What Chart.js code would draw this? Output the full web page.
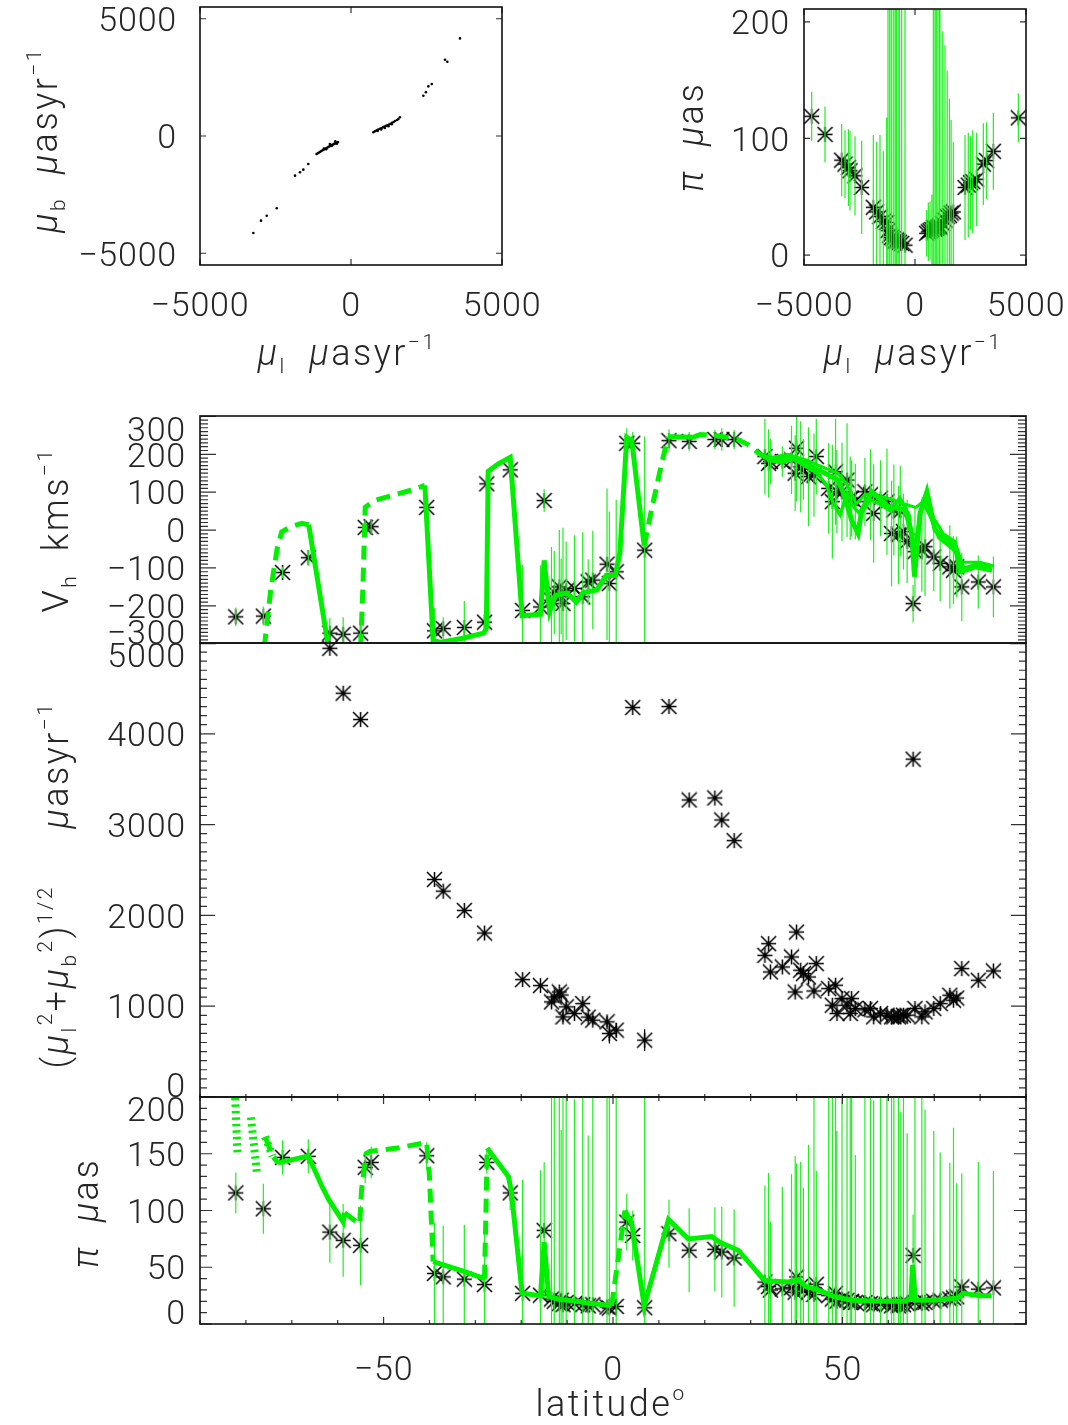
<!DOCTYPE html>
<html lang="en">
<head>
<meta charset="UTF-8">
<title>Proper motions, radial velocities and parallaxes vs latitude</title>
<script src="https://cdn.jsdelivr.net/npm/chart.js@4.4.1/dist/chart.umd.min.js"></script>
<style>
  body { margin: 0; background: #fff; }
  #page { position: relative; width: 1068px; height: 1425px; }
  #page canvas { position: absolute; left: 0; top: 0; }
</style>
</head>
<body>
<div id="page">
  <canvas id="pmPlot" width="1068" height="1425"></canvas>
  <canvas id="plxMuPlot" width="1068" height="1425"></canvas>
  <canvas id="vhPlot" width="1068" height="1425"></canvas>
  <canvas id="muPlot" width="1068" height="1425"></canvas>
  <canvas id="plxPlot" width="1068" height="1425"></canvas>
</div>
<script>
// ---------- values ----------

// top left: mu_b against mu_l (micro-arcsec / yr)
const pmL = [-3234, -2980, -2790, -2460, -1854, -1689, -1579, -1414,
  -1140, -1100, -1060, -1020, -980, -940, -900, -860, -820, -780,
  -740, -700, -660, -620, -580, -540, -500, -460, -430, -470,
  -900, -820, -700, -640, -560, -520,
  740, 790, 850, 900, 960, 1010, 1060, 1110, 1160, 1210,
  1260, 1310, 1360, 1410, 1460, 1520, 1570, 1620, 880, 1000, 1120, 1240, 1350,
  2396, 2480, 2561, 2674, 3113, 3190, 3609];
const pmB = [-4135, -3610, -3397, -3082, -1691, -1547, -1435, -1193,
  -770, -735, -705, -675, -640, -610, -580, -550, -520, -490,
  -460, -430, -400, -380, -350, -330, -300, -280, -260, -330,
  -540, -560, -340, -420, -330, -230,
  160, 200, 240, 270, 310, 340, 370, 400, 430, 460,
  490, 520, 560, 600, 640, 680, 720, 800, 210, 280, 340, 420, 500,
  1717, 1870, 2117, 2215, 3250, 3165, 4162];

// top right: parallax against mu_l
const plxMuL = [-4655, -4054, -3303, -3153, -3000, -2928, -2703, -2403,
  -1877, -1727, -1577, -1426, -1276, -1216, -1140, -1066, -980, -900, -840, -766, -700, -600, -450,
  525, 600, 676, 760, 826, 900, 960, 1030, 1100, 1126, 1250, 1350, 1450, 1550, 1626, 1726,
  2253, 2400, 2500, 2600, 2778, 3078, 3228, 3529, 4655];
const plxVal = [119, 103.5, 81.4, 78, 75, 72.3, 68, 58,
  41, 37, 33, 29, 28, 21, 17, 15, 14, 12, 13, 12, 11, 10, 8.5,
  18.7, 20, 21, 22, 24, 22, 23, 24, 25, 24, 27, 30, 33, 34, 36, 37,
  58, 60, 62, 63, 65, 78, 81, 89, 117.7];
const plxValErr = [21, 24, 31, 29, 33, 34, 34, 40,
  62, 60, 70, 60, 90, 300, 300, 300, 300, 300, 300, 300, 300, 300, 300,
  20, 25, 25, 30, 300, 300, 300, 300, 300, 190, 165, 150, 125, 100, 80, 60,
  45, 45, 40, 44, 40, 35, 33, 33, 21];

// lower three panels: one entry per star, ordered by latitude
const starLat = [-82.2, -76.2, -72.0, -66.4, -61.7, -58.8, -55.0, -54.0, -52.7, -40.6,
  -38.9, -37.0, -32.4, -28.0, -27.5, -22.4, -19.7, -15.8, -15.0, -13.4,
  -12.8, -11.7, -11.3, -10.9, -10.2, -8.4, -6.6, -5.4, -4.4, -1.3,
  -0.8, 0.7, 3.0, 4.3, 6.9, 12.2, 16.6, 22.2, 23.7, 26.4,
  33.1, 33.9, 34.3, 36.9, 38.9, 39.7, 40.0, 40.9, 41.5, 42.6,
  43.8, 44.3, 47.0, 47.8, 48.5, 48.8, 49.9, 51.0, 51.7, 52.0,
  52.8, 54.9, 56.1, 56.8, 58.3, 59.7, 60.7, 61.2, 62.2, 62.6,
  63.3, 64.1, 65.4, 65.8, 67.3, 68.0, 69.9, 71.3, 73.4, 74.2,
  74.9, 76.0, 79.6, 82.9];
const starVh = [-229, -227, -112, -73, -272, -275, -272, 7, 9, 60,
  -266, -260, -257, -243, 122, 159, -212, -203, 78, -185,
  -165, -150, -175, -194, -160, -154, -176, -137, -132, -90,
  -141, -110, 229, 229, -53, 236, 234, 239, 239, 239,
  194, 176, 181, 181, 185, 150, 216, 167, 160, 141,
  145, 194, 110, 75, 154, 101, 101, 132, 84, 84,
  75, 101, 93, 44, 84, 75, -9, 53, -13, 50,
  -4, -30, -194, -57, -53, -44, -71, -88, -97, -106,
  -97, -150, -137, -150];
const starVhErr = [25, 25, 15, 20, 40, 45, 40, 20, 20, 15,
  60, 30, 70, 30, 20, 20, 120, 110, 30, 140,
  110, 150, 100, 200, 130, 140, 170, 60, 130, 200,
  190, 190, 40, 30, 300, 30, 25, 25, 30, 25,
  100, 90, 60, 40, 90, 100, 140, 120, 80, 130,
  110, 100, 120, 150, 140, 110, 130, 150, 110, 100,
  100, 90, 120, 130, 100, 140, 140, 120, 130, 120,
  100, 110, 50, 120, 110, 130, 90, 100, 110, 90,
  80, 90, 70, 80];
const starMu = [null, null, null, null, 4942, 4447, 4157, null, null, null,
  2396, 2267, 2055, 1806, null, null, 1293, 1227, null, 1047,
  1102, 1157, 1124, 882, 993, 919, 1029, 880, 846, 828,
  700, 736, null, 4289, 626, 4300, 3271, 3293, 3051, 2824,
  1560, 1689, 1377, 1432, 1542, 1157, 1817, 1396, 1359, 1322,
  1168, 1469, 1194, 1011, 1231, 919, 1084, 1011, 920, 1084,
  974, 960, 974, 883, 919, 901, 883, 883, 883, 890,
  901, 901, 3721, 974, 883, 938, 974, 1029, 1121, 1066,
  1090, 1414, 1286, 1388];
const starMuErr = [0, 0, 0, 0, 20, 20, 20, 0, 0, 0,
  20, 20, 20, 20, 0, 0, 20, 20, 0, 60,
  40, 30, 30, 60, 50, 50, 40, 40, 50, 60,
  110, 80, 0, 20, 120, 20, 20, 20, 20, 20,
  30, 30, 30, 30, 30, 40, 30, 30, 30, 30,
  30, 30, 30, 40, 30, 40, 30, 40, 40, 30,
  30, 30, 30, 40, 30, 30, 30, 30, 30, 30,
  30, 30, 20, 40, 40, 30, 30, 30, 30, 30,
  30, 20, 20, 20];
const starPlx = [115.5, 101.5, 146.8, 147.7, 81, 73.7, 69.3, 138, 142.4, 148.2,
  44.5, 41.5, 39.5, 34.8, 142.4, 115.5, 27, 25.4, 82.5, 22,
  20, 18, 21, 17, 19, 18, 17, 16, 17, 15,
  14, 15.5, 89.8, 78, 14.3, 79.5, 65, 65.8, 63.4, 58.2,
  37, 33, 30, 31, 32, 28, 41.5, 33, 30, 28,
  26, 35, 25, 22, 27, 20, 22, 21, 19, 20,
  19, 19, 18, 17, 18, 17, 16, 17, 16, 17,
  17, 18, 60.5, 19, 18, 19, 20, 21, 22, 23,
  24, 32.7, 30.7, 31.8];
const starPlxErr = [18, 22, 15, 15, 27, 32, 35, 14, 14, 12,
  45, 45, 48, 45, 10, 15, 100, 110, 60, 200,
  180, 200, 150, 200, 190, 180, 200, 150, 190, 200,
  200, 200, 25, 22, 200, 30, 37, 37, 40, 43,
  85, 100, 60, 90, 100, 120, 100, 110, 90, 130,
  180, 100, 200, 180, 200, 150, 200, 200, 190, 200,
  130, 200, 200, 180, 200, 200, 190, 200, 200, 170,
  200, 150, 36, 200, 200, 170, 150, 130, 120, 150,
  100, 100, 112, 103];

// model curves (null = break in the line, dash flag 1 = dashed segment)
const modelVLat = [-76.0, -74.6, -73.2, -72.2, -70.3, -67.8, -66.3, -64.8, -62.0, -60.0,
  -55.0, -54.5, -54.0, -52.0, -47.0, -44.0, -41.0, -39.2, -37.5, -33.0,
  -28.2, -27.6, -27.2, -25.0, -22.4, -19.8, -15.8, -15.0, -13.8, -12.5,
  -10.0, -8.0, -6.5, -3.5, -1.5, 0.5, 1.5, 3.0, 4.1, 6.8,
  8.5, 10.5, 12.0, 17.5, 19.0, 23.0, 27.0, 29.5, 32.0, 33.0,
  36.0, 38.9, 41.8, 44.7, 47.6, 49.1, 50.5, 52.0, 53.4, 54.2,
  56.4, 60.0, 63.7, 65.1, 65.7, 66.9, 68.4, 70.2, 74.6, 75.7,
  79.0, 82.6];
const modelV = [-310, -160, -50, -5, 8, 18, 14, -100, -310, null,
  -310, -150, 60, 78, 95, 105, 118, -292, -296, -286,
  -272, -260, 155, 175, 192, -226, -222, -80, -215, -172,
  -166, -190, -165, -158, -120, -120, -60, 245, 236, -42,
  60, 170, 246, 245, 252, 248, 240, 225, 200, 194,
  185, 194, 176, 159, 141, 132, 88, 26, -9, 53,
  101, 62, 53, -9, -123, 44, 101, 0, -44, -110,
  -97, -106];
const modelVDash = [1, 1, 1, 1, 1, 1, 0, 0, 0, 0,
  1, 1, 1, 1, 1, 1, 0, 0, 0, 0,
  0, 0, 0, 0, 0, 0, 0, 0, 0, 0,
  0, 0, 0, 0, 0, 0, 0, 0, 0, 1,
  1, 1, 0, 1, 1, 1, 1, 1, 0, 0,
  0, 0, 0, 0, 0, 0, 0, 0, 0, 0,
  0, 0, 0, 0, 0, 0, 0, 0, 0, 0,
  0, 0];
const modelV2Lat = [33.5, 36.5, 39.5, 42.0, 44.5, 46.5, 48.0, 49.5, 51.0, 52.5,
  54.0, 56.0, 58.0, 60.5, 62.5, 64.5, 65.5, 67.5, 69.0, 71.0,
  73.0, 75.0, 76.5, 79.5, 82.5];
const modelV2 = [185, 178, 186, 168, 150, 120, 70, 40, 95, 60,
  40, 80, 70, 50, 85, 40, -60, 75, 40, -20,
  -40, -60, -100, -90, -100];
const modelV3Lat = [34.0, 38.0, 42.0, 46.0, 49.0, 51.0, 53.0, 55.0, 58.0, 61.0,
  63.0, 66.0, 68.0, 70.0, 72.0, 74.5, 76.0, 80.0, 83.0];
const modelV3 = [190, 200, 185, 165, 150, 120, 70, 95, 90, 80,
  70, 60, 80, 30, -10, -30, -85, -85, -95];

const modelPLat = [-82.4, -81.8, -80.0, -78.9, -77.6, -76.5, -75.8, -74.2, -73.0, -66.4,
  -63.5, -62.0, -58.8, -58.5, -55.2, -54.8, -53.8, -53.0, -47.0, -40.6,
  -40.0, -39.2, -33.0, -28.0, -27.4, -26.5, -22.8, -22.2, -19.8, -15.8,
  -15.0, -14.0, -12.0, -10.0, -8.0, -5.0, -2.0, -0.3, 0.7, 2.6,
  4.1, 6.8, 12.1, 16.4, 21.5, 23.3, 27.3, 33.1, 38.2, 40.4,
  42.0, 44.7, 48.3, 52.0, 58.0, 63.7, 64.9, 65.3, 65.9, 70.0,
  75.2, 76.3, 80.0, 82.5];
const modelP = [null, null, null, null, null, null, 165, 148, 142, 148,
  122, 110, 90, 98, 88, 118, 150, 152, 155, 160,
  130, 55, 47, 40, 155, 150, 130, 118, 27, 25,
  72, 24, 22, 21, 20, 18, 17, 16, 45, 100,
  88, 16, 92, 75, 77, 72, 65, 38, 37, 39,
  33, 30, 24, 21, 20, 20, 22, 52, 21, 21,
  23, 27, 25, 25];
const modelPDash = [0, 0, 0, 0, 0, 0, 1, 1, 0, 0,
  0, 0, 0, 1, 1, 1, 1, 1, 1, 1,
  1, 0, 0, 1, 0, 0, 0, 0, 0, 0,
  0, 0, 0, 0, 0, 0, 0, 1, 1, 0,
  0, 0, 0, 0, 0, 0, 0, 0, 0, 0,
  0, 0, 0, 0, 0, 0, 0, 0, 0, 0,
  0, 0, 0, 0];
// hatched pieces at the far south end of the parallax model
const modelPHatchLat = [-82.4, -81.8, -80.0, -78.9, -77.6, -76.5, -75.8, -74.2];
const modelPHatch = [205, 148, null, 182, 133, null, 165, 148];

// tick labels
const pmTicks = [-5000, 0, 5000];
const plxTopTicks = [0, 100, 200];
const vhTicks = [-300, -200, -100, 0, 100, 200, 300];
const muTicks = [0, 1000, 2000, 3000, 4000, 5000];
const plxTicks = [0, 50, 100, 150, 200];
const latTicks = [-50, 0, 50];

// ---------- drawing ----------
const W = 1068, H = 1425;
const FONT = 'Roboto, "Liberation Sans", Arial, sans-serif';
const FS = 34;     // tick labels
const TS = 36;     // axis titles
const INK = '#262626';
const GREEN = '#00f000';
const BAR_GREEN = '#1ff01f';

// IDL style asterisk used as the point symbol
function asterisk(size, lw) {
  const c = document.createElement('canvas');
  c.width = c.height = size;
  const g = c.getContext('2d');
  const m = size / 2, r = size / 2 - 1;
  g.strokeStyle = '#000';
  g.lineWidth = lw;
  g.beginPath();
  g.moveTo(m - r, m); g.lineTo(m + r, m);
  g.moveTo(m, m - r); g.lineTo(m, m + r);
  g.moveTo(m - r, m - r); g.lineTo(m + r, m + r);
  g.moveTo(m - r, m + r); g.lineTo(m + r, m - r);
  g.stroke();
  return c;
}
const STAR = asterisk(17, 1.5);

const fmt = v => String(v).replace('-', '\u2212');
const pts = (xs, ys) => xs.map((x, i) => ({ x, y: ys[i] }));
function bars(xs, ys, errs) {
  const out = [];
  xs.forEach((x, i) => {
    if (ys[i] == null || !errs[i]) return;
    out.push({ x, y: ys[i] - errs[i] }, { x, y: ys[i] + errs[i] }, { x, y: null });
  });
  return out;
}
function range(min, max, step) {
  const out = [];
  for (let v = Math.ceil(min / step) * step; v <= max + 1e-9; v += step) out.push(v);
  return out;
}

// text with italic / sub / sup pieces, centred on (cx, cy)
function drawRich(ctx, segs, cx, cy, rot) {
  ctx.save();
  ctx.translate(cx, cy);
  if (rot) ctx.rotate(rot);
  ctx.letterSpacing = '2.5px';
  const parts = segs.map(([t, k]) => {
    const s = (k === 'sub' || k === 'sup') ? TS * 0.58 : TS;
    const f = (k === 'i' ? 'italic ' : '') + '300 ' + s + 'px ' + FONT;
    ctx.font = f;
    return { t, k, f, w: ctx.measureText(t).width };
  });
  const total = parts.reduce((a, p) => a + p.w, 0);
  let x = -total / 2;
  ctx.fillStyle = INK;
  ctx.textAlign = 'left';
  ctx.textBaseline = 'alphabetic';
  for (const p of parts) {
    ctx.font = p.f;
    const dy = p.k === 'sub' ? TS * 0.22 : p.k === 'sup' ? -TS * 0.45 : 0;
    ctx.fillText(p.t, x, TS * 0.36 + dy);
    x += p.w;
  }
  ctx.restore();
}

function frame(spec) {
  return {
    id: 'frame',
    afterDraw(chart) {
      const { ctx, chartArea: a, scales } = chart;
      ctx.save();
      ctx.strokeStyle = '#333';
      ctx.lineWidth = 1.2;
      ctx.beginPath();
      for (const t of spec.ticks) {
        const sc = scales[t.axis];
        const vals = t.vals || range(sc.min, sc.max, t.step);
        for (const v of vals) {
          const p = sc.getPixelForValue(v);
          if (t.axis === 'y') {
            if (t.sides.includes('l')) { ctx.moveTo(a.left, p); ctx.lineTo(a.left + t.len, p); }
            if (t.sides.includes('r')) { ctx.moveTo(a.right, p); ctx.lineTo(a.right - t.len, p); }
          } else {
            if (t.sides.includes('b')) { ctx.moveTo(p, a.bottom); ctx.lineTo(p, a.bottom - t.len); }
            if (t.sides.includes('t')) { ctx.moveTo(p, a.top); ctx.lineTo(p, a.top + t.len); }
          }
        }
      }
      ctx.stroke();
      ctx.lineWidth = 1.6;
      ctx.strokeStyle = '#111';
      ctx.strokeRect(a.left, a.top, a.right - a.left, a.bottom - a.top);

      ctx.fillStyle = INK;
      ctx.font = '300 ' + FS + 'px ' + FONT;
      ctx.letterSpacing = '0.8px';
      ctx.textBaseline = 'alphabetic';
      if (spec.yLabels) {
        ctx.textAlign = 'right';
        for (const v of spec.yLabels.vals) {
          let p = scales.y.getPixelForValue(v);
          if (p - a.top < 3) p += 12;
          if (a.bottom - p < 3) p -= 12;
          ctx.fillText(fmt(v), spec.yLabels.x, p + FS * 0.36);
        }
      }
      if (spec.xLabels) {
        ctx.textAlign = 'center';
        for (const v of spec.xLabels.vals) {
          const p = scales.x.getPixelForValue(v);
          ctx.fillText(fmt(v), p, spec.xLabels.y + FS * 0.36);
        }
      }
      if (spec.yTitle) drawRich(ctx, spec.yTitle.segs, spec.yTitle.x, spec.yTitle.y, -Math.PI / 2);
      if (spec.xTitle) drawRich(ctx, spec.xTitle.segs, spec.xTitle.x, spec.xTitle.y, 0);
      ctx.restore();
    }
  };
}

function makePanel(id, box, xr, yr, datasets, deco) {
  return new Chart(document.getElementById(id), {
    type: 'scatter',
    data: { datasets },
    options: {
      responsive: false,
      animation: false,
      events: [],
      layout: { padding: { left: box[0], top: box[1], right: W - box[2], bottom: H - box[3] } },
      plugins: { legend: { display: false }, tooltip: { enabled: false } },
      scales: {
        x: { type: 'linear', display: false, min: xr[0], max: xr[1] },
        y: { type: 'linear', display: false, min: yr[0], max: yr[1] }
      }
    },
    plugins: [frame(deco)]
  });
}

const starSet = (xs, ys) => ({
  data: pts(xs, ys), showLine: false, pointStyle: STAR, pointRadius: 8,
  clip: false, order: 3
});
const barSet = (xs, ys, errs, color, width) => ({
  data: bars(xs, ys, errs), showLine: true, borderColor: color, borderWidth: width,
  pointRadius: 0, spanGaps: false, clip: 0, order: 2
});
const modelSet = (xs, ys, dash, width, pattern) => ({
  data: pts(xs, ys), showLine: true, borderColor: GREEN, borderWidth: width,
  pointRadius: 0, spanGaps: false, clip: 0, order: 1, tension: 0,
  segment: { borderDash: c => (dash && dash[c.p0DataIndex]) ? (pattern || [14, 8]) : undefined }
});

const T_MUB = [['\u03bc', 'i'], ['b', 'sub'], ['  '], ['\u03bc', 'i'], ['asyr'], ['\u22121', 'sup']];
const T_MUL = [['\u03bc', 'i'], ['l', 'sub'], ['  '], ['\u03bc', 'i'], ['asyr'], ['\u22121', 'sup']];
const T_PI = [['\u03c0', 'i'], ['  '], ['\u03bc', 'i'], ['as']];
const T_VH = [['V'], ['h', 'sub'], ['  kms'], ['\u22121', 'sup']];
const T_MU = [['('], ['\u03bc', 'i'], ['l', 'sub'], ['2', 'sup'], ['+'], ['\u03bc', 'i'], ['b', 'sub'], ['2', 'sup'], [')'],
  ['1/2', 'sup'], ['     '], ['\u03bc', 'i'], ['asyr'], ['\u22121', 'sup']];
const T_LAT = [['latitude'], ['o', 'sup']];

// top left
makePanel('pmPlot', [200, 7, 502, 265], [-5000, 5000], [-5500, 5500], [{
  data: pts(pmL, pmB), showLine: false, pointStyle: 'circle', pointRadius: 1.3,
  backgroundColor: '#000', borderWidth: 0, clip: false
}], {
  ticks: [{ axis: 'x', vals: pmTicks, len: 6, sides: 'tb' }, { axis: 'y', vals: pmTicks, len: 6, sides: 'lr' }],
  yLabels: { vals: pmTicks, x: 177 }, xLabels: { vals: pmTicks, y: 304 },
  yTitle: { segs: T_MUB, x: 44, y: 140 }, xTitle: { segs: T_MUL, x: 347, y: 352 }
});

// top right
makePanel('plxMuPlot', [804, 7, 1026, 265], [-5000, 5000], [-8.5, 211], [
  starSet(plxMuL, plxVal),
  barSet(plxMuL, plxVal, plxValErr, BAR_GREEN, 1.2)
], {
  ticks: [{ axis: 'x', vals: pmTicks, len: 6, sides: 'tb' }, { axis: 'y', vals: plxTopTicks, len: 6, sides: 'lr' }],
  yLabels: { vals: plxTopTicks, x: 790 }, xLabels: { vals: pmTicks, y: 304 },
  yTitle: { segs: T_PI, x: 690, y: 137 }, xTitle: { segs: T_MUL, x: 913, y: 352 }
});

// heliocentric velocity
makePanel('vhPlot', [200, 416, 1026, 643], [-90, 90], [-298, 301], [
  starSet(starLat, starVh),
  barSet(starLat, starVh, starVhErr, BAR_GREEN, 1.2),
  modelSet(modelVLat, modelV, modelVDash, 5),
  modelSet(modelV2Lat, modelV2, null, 3.5),
  modelSet(modelV3Lat, modelV3, null, 3)
], {
  ticks: [{ axis: 'y', vals: vhTicks, len: 16, sides: 'lr' }, { axis: 'y', step: 10, len: 8, sides: 'lr' }],
  yLabels: { vals: vhTicks, x: 186 },
  yTitle: { segs: T_VH, x: 55, y: 530 }
});

// total proper motion
makePanel('muPlot', [200, 643, 1026, 1097], [-90, 90], [0, 5000], [
  starSet(starLat, starMu),
  barSet(starLat, starMu, starMuErr, '#000', 1.2)
], {
  ticks: [{ axis: 'y', vals: muTicks, len: 15, sides: 'lr' }, { axis: 'y', step: 100, len: 7, sides: 'lr' },
    { axis: 'x', step: 10, len: 3, sides: 'b' }],
  yLabels: { vals: muTicks, x: 186 },
  yTitle: { segs: T_MU, x: 55, y: 885 }
});

// parallax
makePanel('plxPlot', [200, 1097, 1026, 1324], [-90, 90], [0, 200], [
  starSet(starLat, starPlx),
  barSet(starLat, starPlx, starPlxErr, BAR_GREEN, 1.2),
  modelSet(modelPLat, modelP, modelPDash, 5),
  modelSet(modelPHatchLat, modelPHatch, [1, 1, 1, 1, 1, 1, 1, 1], 8, [2.5, 4])
], {
  ticks: [{ axis: 'y', vals: plxTicks, len: 12, sides: 'lr' }, { axis: 'y', step: 10, len: 7, sides: 'lr' },
    { axis: 'x', vals: latTicks, len: 7, sides: 'tb' }, { axis: 'x', step: 10, len: 4, sides: 'tb' }],
  yLabels: { vals: plxTicks, x: 186 }, xLabels: { vals: latTicks, y: 1368 },
  yTitle: { segs: T_PI, x: 85, y: 1213 }, xTitle: { segs: T_LAT, x: 611, y: 1403 }
});
</script>
</body>
</html>
